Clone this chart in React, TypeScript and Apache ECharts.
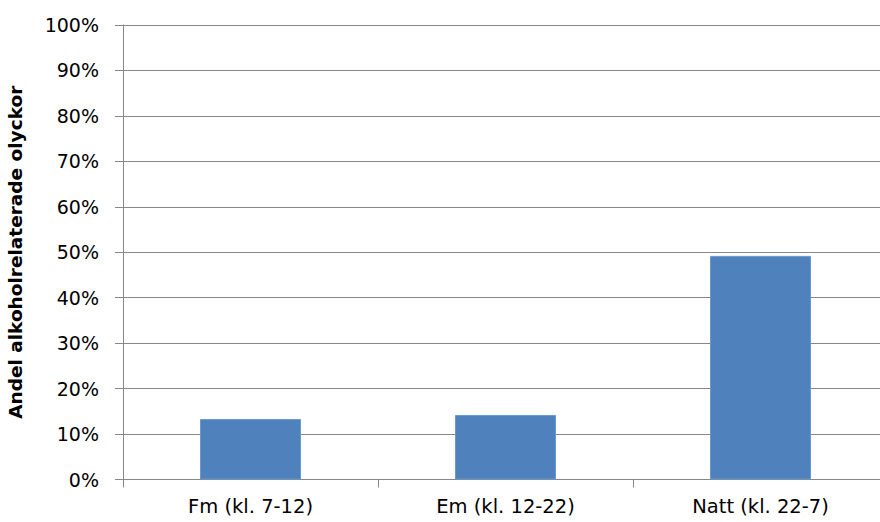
import React, { useEffect, useRef } from "react";
import * as echarts from "echarts";

const categories = ["Fm (kl. 7-12)", "Em (kl. 12-22)", "Natt (kl. 22-7)"];
const shares = [13.3, 14.2, 49.2];
const yTicks = [0, 10, 20, 30, 40, 50, 60, 70, 80, 90, 100];
const yAxisTitle = "Andel alkoholrelaterade olyckor";

const FONT = "DejaVu Sans";

export default function App() {
  const ref = useRef<HTMLDivElement>(null);
  useEffect(() => {
    if (!ref.current) return;
    const chart = echarts.init(ref.current, null, { renderer: "svg" });
    chart.setOption({
      animation: false,
      backgroundColor: "#ffffff",
      grid: {
        left: 123,
        top: 25,
        width: 765,
        height: 454.5,
        containLabel: false,
        outerBoundsMode: "none",
      },
      xAxis: {
        type: "category",
        data: categories,
        axisLine: { lineStyle: { color: "#878787", width: 1 } },
        axisTick: { show: true, length: 8, lineStyle: { color: "#878787" } },
        axisLabel: { color: "#000", fontFamily: FONT, fontSize: 19.5, margin: 17 },
      },
      yAxis: {
        type: "value",
        min: yTicks[0],
        max: yTicks[yTicks.length - 1],
        interval: 10,
        name: yAxisTitle,
        nameLocation: "middle",
        nameGap: 98,
        nameRotate: 90,
        nameTextStyle: { color: "#000", fontFamily: FONT, fontSize: 18.5, fontWeight: "bold" },
        axisLine: { show: true, lineStyle: { color: "#878787", width: 1 } },
        axisTick: { show: true, length: 8, lineStyle: { color: "#878787" } },
        axisLabel: { color: "#000", fontFamily: FONT, fontSize: 19, margin: 24, formatter: "{value}%" },
        splitLine: { show: true, lineStyle: { color: "#878787", width: 1 } },
      },
      series: [
        {
          type: "bar",
          data: shares,
          barWidth: 101,
          itemStyle: { color: "#4F81BD", borderColor: "#6A97CF", borderWidth: 1 },
        },
      ],
    });
    return () => chart.dispose();
  }, []);
  return <div ref={ref} style={{ width: 880, height: 522, position: "fixed", left: 0, top: 0 }} />;
}
